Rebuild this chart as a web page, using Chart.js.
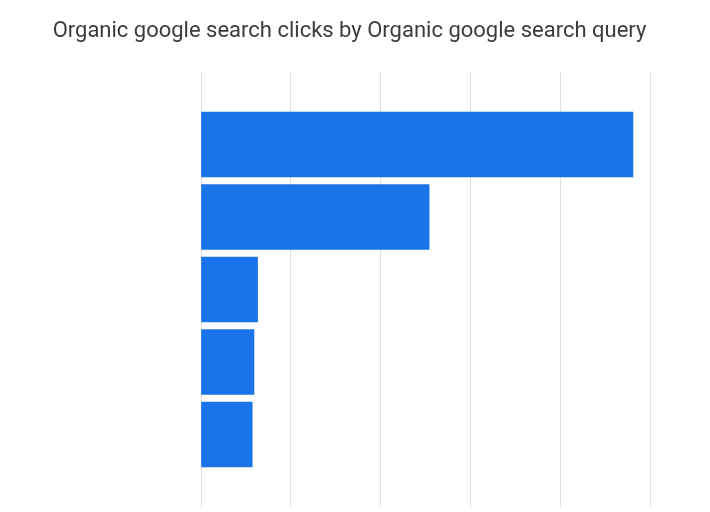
<!DOCTYPE html>
<html>
<head>
<meta charset="utf-8">
<script src="https://cdn.jsdelivr.net/npm/chart.js@4"></script>
<style>
  html, body { margin: 0; padding: 0; background: #fff; }
  #wrap { width: 710px; height: 512px; }
</style>
</head>
<body>
<div id="wrap"><canvas id="grafico"></canvas></div>
<script>
// Consultas (os nomes não aparecem no gráfico)
const consultas = ['Query 1', 'Query 2', 'Query 3', 'Query 4', 'Query 5'];
// Cliques orgânicos por consulta
const cliques = [48.1, 25.4, 6.3, 5.9, 5.7];
const escalaMax = 50;
const passo = 10;

// linhas vazias em cima e embaixo para deixar a grade passar das barras
const rotulos = [''].concat(consultas, ['']);
const valores = [null].concat(cliques, [null]);

const ctx = document.getElementById('grafico').getContext('2d');

const grafico = new Chart(ctx, {
  type: 'bar',
  data: {
    labels: rotulos,
    datasets: [{
      label: 'Organic google search clicks',
      data: valores,
      backgroundColor: '#1a73e8',
      borderWidth: 0,
      barThickness: 65
    }]
  },
  options: {
    indexAxis: 'y',
    responsive: true,
    maintainAspectRatio: false,
    animation: false,
    layout: { padding: { top: 0, left: 0, right: 11, bottom: 5 } },
    plugins: {
      legend: { display: false },
      tooltip: { enabled: false },
      title: {
        display: true,
        text: 'Organic google search clicks by Organic google search query',
        color: '#3c3c3c',
        font: { family: 'Roboto', size: 22, weight: 'normal', lineHeight: 1.2 },
        padding: { top: 18, bottom: 27.6 }
      }
    },
    scales: {
      x: {
        min: 0,
        max: escalaMax,
        ticks: { display: false, stepSize: passo },
        grid: { color: '#e0e0e0', lineWidth: 1, drawTicks: false },
        border: { display: false }
      },
      y: {
        type: 'category',
        offset: false,
        ticks: { display: false },
        grid: { display: false },
        border: { display: false },
        afterFit: function(s) { s.width = 201; }
      },
      // eixo vazio só para reservar a margem da direita
      y2: {
        position: 'right',
        type: 'category',
        labels: rotulos,
        ticks: { display: false },
        grid: { display: false },
        border: { display: false },
        afterFit: function(s) { s.width = 49; }
      }
    }
  }
});
</script>
</body>
</html>
